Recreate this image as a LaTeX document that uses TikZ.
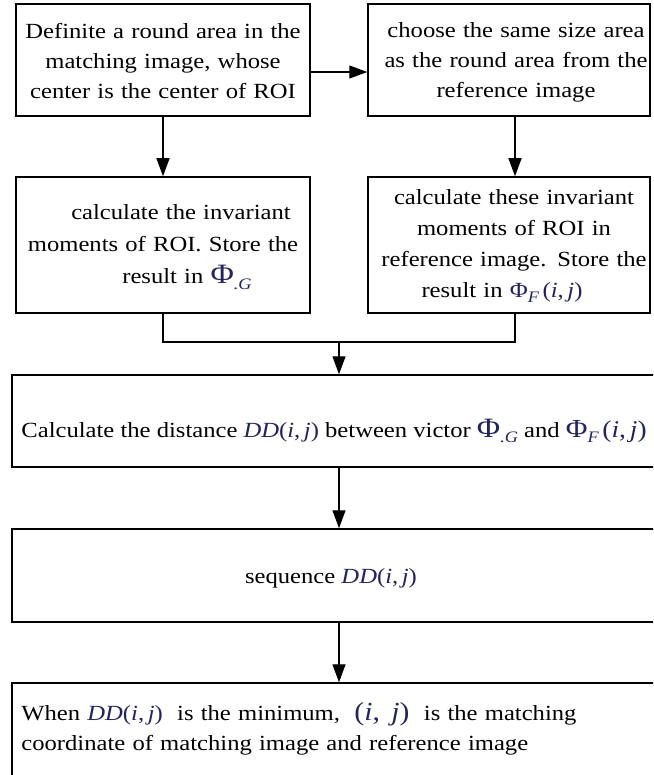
\documentclass[tikz,border=0pt]{standalone}
\usepackage{fontspec}
\setmainfont[FakeStretch=1.14]{Liberation Serif}
\usetikzlibrary{arrows.meta}
\definecolor{mathc}{RGB}{35,35,95}
\newcommand{\myDD}{\textcolor{mathc}{\textit{DD}(\textit{i},\,\textit{j})}}
\newcommand{\myij}{\textcolor{mathc}{{\fontsize{13pt}{15pt}\selectfont(\textit{i},\, \textit{j})}}}
\newcommand{\myPhiG}{\textcolor{mathc}{{\fontsize{14pt}{15pt}\selectfont Φ}\raisebox{-0.6ex}{\fontsize{8pt}{8pt}\selectfont\textit{.G}}}}
\newcommand{\myPhiF}{\textcolor{mathc}{Φ\raisebox{-0.5ex}{\fontsize{8pt}{8pt}\selectfont\textit{F}}\,(\textit{i},\,\textit{j})}}
\newcommand{\myPhiFbig}{\textcolor{mathc}{{\fontsize{13pt}{15pt}\selectfont Φ}\raisebox{-0.6ex}{\fontsize{8pt}{8pt}\selectfont\textit{F}}\,{\fontsize{12pt}{15pt}\selectfont(\textit{i},\,\textit{j})}}}
\tikzset{
  box/.style={draw, line width=0.75pt, inner sep=0pt, rectangle},
  txt/.style={inner sep=0pt, font=\fontsize{10.8pt}{15pt}\selectfont},
  conn/.style={line width=0.65pt},
  arr/.style={conn, -{Triangle[length=9pt,width=6.5pt]}}
}
\begin{document}
\begin{tikzpicture}[x=0.5pt, y=-0.5pt]
\clip (0,0) rectangle (653,775);
\fill[white] (0,0) rectangle (653,775);
% boxes
\node[box, minimum width=147pt, minimum height=56pt] (b1) at (163,60) {};
\node[box, minimum width=141pt, minimum height=56pt] (b2) at (509,60) {};
\node[box, minimum width=147pt, minimum height=68pt] (b3) at (163,245) {};
\node[box, minimum width=141pt, minimum height=68pt] (b4) at (509,245) {};
\node[box, minimum width=324pt, minimum height=46pt] (b5) at (336,421) {};
\node[box, minimum width=324pt, minimum height=46.5pt] (b6) at (336,575.5) {};
\node[box, minimum width=324pt, minimum height=58.5pt] (b7) at (336,741.5) {};
% texts
\node[txt, anchor=base, text width=145pt, align=center] (t1) at (163,39)
  {Definite a round area in the\\ matching image, whose\\ center is the center of ROI};
\node[txt, anchor=base, text width=140pt, align=center] (t2) at (516,38)
  {choose the same size area\\ as the round area from the\\ reference image};
\node[txt, anchor=base, text width=145pt, align=center, font=\fontsize{10.8pt}{15.8pt}\selectfont] (t3) at (163,220)
  {\hspace*{18pt}calculate the invariant\\ moments of ROI. Store the\\ \hspace*{24pt}result in \myPhiG};
\node[txt, anchor=base, text width=140pt, align=center, font=\fontsize{10.8pt}{15.5pt}\selectfont] (t4) at (514,205)
  {calculate these invariant\\ moments of ROI in\\ reference image. Store the\\ \hspace*{-12pt}result in \myPhiF};
\node[txt, anchor=base west] (t5) at (21,437)
  {Calculate the distance \myDD\ between victor \myPhiG\ and \myPhiFbig};
\node[txt, anchor=base] (t6) at (331,583) {sequence \myDD};
\node[txt, anchor=base west, text width=310pt, align=left] (t7) at (21,720)
  {When \myDD\ \ is the minimum, \ \myij\ \ is the matching\\ coordinate of matching image and reference image};
% connectors
\draw[arr] ([yshift=-6pt]b1.east) -- ([yshift=-6pt]b2.west);
\draw[arr] (b1.south) -- (b3.north);
\draw[arr] ([xshift=3pt]b2.south) -- ([xshift=3pt]b4.north);
\coordinate (j) at (339,342);
\draw[conn] (b3.south) |- (j);
\draw[conn] ([xshift=3pt]b4.south) |- (j);
\draw[arr] (j) -- (j |- b5.north);
\draw[arr] (b5.south -| j) -- (b6.north -| j);
\draw[arr] (b6.south -| j) -- (b7.north -| j);
\end{tikzpicture}
\end{document}
